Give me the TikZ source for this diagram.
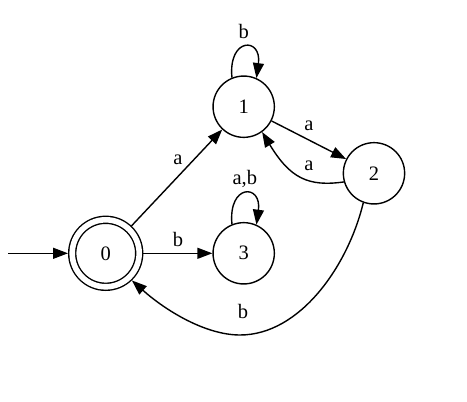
\documentclass[tikz,border=0pt]{standalone}
\usepackage{fontspec}
\setmainfont{Liberation Serif}
\usepackage{tikz}
\usetikzlibrary{arrows.meta,positioning}

\tikzset{
    state/.style={circle, draw, line width=1.4pt, minimum size=61.3pt, inner sep=0pt, outer sep=0.7pt},
    accepting/.style={circle, draw, line width=1.4pt, double, double distance=5.6pt,
        minimum size=67pt, inner sep=0pt, outer sep=4.2pt},
    trans/.style={line width=1.4pt, -{Triangle[length=15pt,width=11pt]}},
    lbl/.style={inner sep=0pt}
}

\begin{document}
\begin{tikzpicture}[x=1pt, y=-1pt, font=\fontsize{20.5}{22}\selectfont]
    \useasboundingbox (0,0) rectangle (467,402);

    % States
    \node[accepting] (q0) at (105.7,253.3) {0};
    \node[state]     (q1) at (243.7,106.7) {1};
    \node[state]     (q2) at (374,173.3)   {2};
    \node[state]     (q3) at (243.7,253.3) {3};

    % Initial arrow
    \coordinate (init) at (8,253.3);
    \draw[trans] (init) -- (q0);

    % Straight transitions
    \draw[trans] (q0) -- (q1) node[lbl, midway, xshift=1pt, yshift=18.4pt] {a};
    \draw[trans] (q0) -- (q3) node[lbl, midway, yshift=14pt] {b};
    \draw[trans] (q1) -- (q2) node[lbl, midway, yshift=14pt] {a};

    % Curved transitions
    \draw[trans] (q2.196) .. controls (308,187) and (290,178) .. (q1.-54)
        node[lbl, pos=0.5, xshift=9pt, yshift=10.3pt] {a};
    \draw[trans] (q2.250) .. controls (348,266) and (300,335) .. (240,335)
        node[lbl, pos=1, xshift=3pt, yshift=24pt] {b}
        .. controls (205,335) and (165,310) .. (q0.-46);

    % Self loops
    \draw[trans] (q1.112) .. controls (228,37) and (262,37) .. (q1.66)
        node[lbl, pos=0.5, xshift=-1pt, yshift=15.4pt] {b};
    \draw[trans] (q3.112) .. controls (228,183.6) and (262,183.6) .. (q3.66)
        node[lbl, pos=0.5, yshift=15pt] {a,b};
\end{tikzpicture}
\end{document}
